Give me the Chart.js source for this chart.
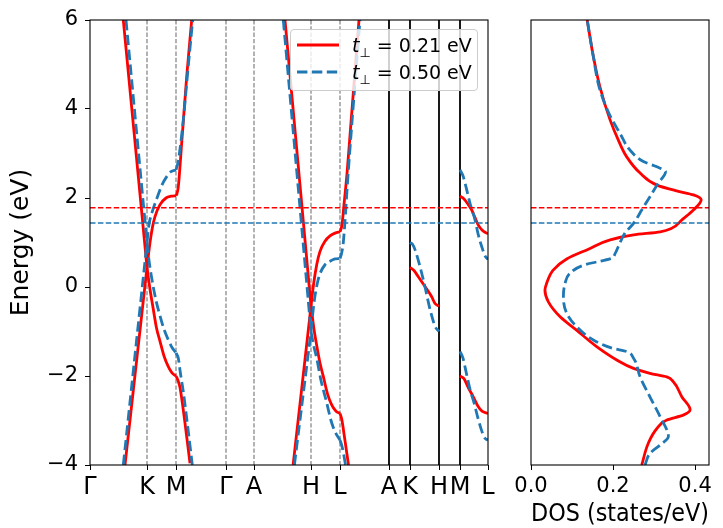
<!DOCTYPE html>
<html>
<head>
<meta charset="utf-8">
<script src="https://cdn.jsdelivr.net/npm/chart.js@4.4.1/dist/chart.umd.min.js"></script>
<style>
  body { margin: 0; background: #fff; width: 723px; height: 528px; overflow: hidden; position: relative; font-family: 'DejaVu Sans', sans-serif; }
  #bands { position: absolute; left: 0; top: 0; }
  #dos { position: absolute; left: 500px; top: 0; }
  #legend { position: absolute; left: 290px; top: 29px; width: 186px; height: 60px; border: 1px solid #ccc; border-radius: 4px; background: rgba(255,255,255,0.8); }
  #legend .row { position: absolute; left: 5px; height: 24px; display: flex; align-items: center; white-space: nowrap; }
  #legend svg { width: 44px; height: 8px; margin-right: 12px; }
  #legend span { font-size: 19px; color: #000; }
  #legend sub { font-size: 13px; vertical-align: -5px; line-height: 0; }
</style>
</head>
<body>
<canvas id="bands" width="500" height="528"></canvas>
<canvas id="dos" width="223" height="528"></canvas>
<div id="legend">
  <div class="row" style="top:3px"><svg><line x1="1" y1="4" x2="43" y2="4" stroke="#ff0000" stroke-width="2.8"/></svg><span><i>t</i><sub>⊥</sub> = 0.21 eV</span></div>
  <div class="row" style="top:30px"><svg><line x1="1" y1="4" x2="43" y2="4" stroke="#1f77b4" stroke-width="2.8" stroke-dasharray="10.4 4.5"/></svg><span><i>t</i><sub>⊥</sub> = 0.50 eV</span></div>
</div>
<script>
// Band structure + DOS for two interlayer hoppings

// k-path (tick positions along the path)
const kTickPos = [0, 57, 86, 136, 164, 221, 250, 299, 320, 349, 370, 398];
const kTickLabels = ['Γ', 'K', 'M', 'Γ', 'A', 'H', 'L', 'A', 'K', 'H', 'M', 'L'];
const dashedLineIdx = [1, 2, 3, 4, 5, 6];
const solidLineIdx = [7, 8, 9, 10];
const energyTicks = [-4, -2, 0, 2, 4, 6];
const dosTicks = [0, 0.2, 0.4];

// Fermi levels (eV)
const fermiRed = 1.78;
const fermiBlue = 1.44;

// t_perp = 0.21 eV bands, [k, E]
const redGK1 = [[33.3, 6], [57, 0.44]];
const redGK2 = [[35, -4], [57, 0.44]];
const redKM1 = [[57, 0.44], [60, 1.0], [62.5, 1.35], [65, 1.58], [70, 1.85], [76, 2.0], [81, 2.04], [86, 2.05]];
const redKM2 = [[57, 0.44], [60, -0.05], [63.3, -0.5], [66.5, -0.92], [70, -1.22], [74, -1.55], [78.3, -1.79], [82, -1.93], [86, -2.0]];
const redMG1 = [[86, 2.05], [87, 2.1], [88.3, 2.25], [91.7, 3.24], [96.7, 4.73], [101.7, 6]];
const redMG2 = [[86, -2.0], [88, -2.1], [90, -2.26], [95, -3.06], [100, -3.96]];
const redAH1 = [[195, 6], [221, -0.43]];
const redAH2 = [[203.1, -4], [221, -0.43]];
const redHL1 = [[221, -0.43], [223.5, 0.05], [226.7, 0.5], [230, 0.8], [235, 1.03], [240, 1.15], [245, 1.21], [250, 1.24]];
const redHL2 = [[221, -0.43], [224, -0.95], [227, -1.35], [230, -1.71], [233.3, -2.01], [237.5, -2.4], [241.7, -2.65], [246, -2.79], [250, -2.84]];
const redLA1 = [[250, 1.24], [252, 1.4], [254, 1.85], [257, 2.55], [261, 3.7], [265, 4.85], [269, 6]];
const redLA2 = [[250, -2.84], [252, -3.0], [254, -3.3], [258.5, -4.0]];
const redKH = [[320, 0.44], [324, 0.37], [328.3, 0.23], [335, 0.01], [341.7, -0.22], [345, -0.37], [349, -0.43]];
const redML1 = [[370, 2.04], [374, 1.98], [378, 1.86], [381.7, 1.73], [385, 1.56], [388.3, 1.39], [392, 1.28], [395, 1.23], [398, 1.2]];
const redML2 = [[370, -2.0], [374, -2.06], [378, -2.25], [383.3, -2.47], [388, -2.68], [392, -2.79], [398, -2.84]];

// t_perp = 0.50 eV bands, [k, E]
const blueGK1 = [[36, 6], [57, 1.0]];
const blueGK2 = [[33.3, -4], [57, 1.0]];
const blueKM1 = [[57, 1.0], [59, 1.4], [61.7, 1.65], [66.7, 1.98], [71.7, 2.28], [76.7, 2.48], [81, 2.59], [86, 2.63]];
const blueKM2 = [[57, 1.0], [59, 0.6], [61.7, 0.2], [66, -0.3], [70, -0.65], [74, -0.95], [78.3, -1.19], [82, -1.36], [86, -1.48]];
const blueMG1 = [[86, 2.63], [88, 2.8], [90, 3.1], [93.3, 3.75], [98, 4.9], [102.7, 6]];
const blueMG2 = [[86, -1.48], [88.3, -1.6], [90.5, -1.95], [93.3, -2.35], [97.5, -3.1], [102.3, -4.0]];
const blueAH1 = [[193.3, 6], [221, -1.0]];
const blueAH2 = [[204.4, -4], [221, -1.0]];
const blueHL1 = [[221, -1.0], [223, -0.55], [225, -0.2], [227.5, 0.1], [230, 0.3], [235, 0.5], [240, 0.58], [245, 0.63], [250, 0.64]];
const blueHL2 = [[221, -1.0], [223.5, -1.3], [226.7, -1.6], [231, -2.1], [236.7, -2.6], [241, -3.0], [245, -3.25], [250, -3.44]];
const blueLA1 = [[250, 0.64], [251.5, 0.75], [253.3, 1.0], [258.3, 2.6], [265, 4.58], [270, 6]];
const blueLA2 = [[250, -3.44], [252, -3.58], [254, -3.8], [255.5, -4.0]];
const blueKH = [[320, 1.0], [322.5, 0.96], [325, 0.84], [330, 0.46], [335, 0.0], [340, -0.5], [345, -0.88], [349, -1.0]];
const blueML1 = [[370, 2.63], [373, 2.5], [376, 2.25], [380, 1.88], [385, 1.51], [388, 1.2], [391.7, 0.91], [395, 0.7], [398, 0.62]];
const blueML2 = [[370, -1.45], [373, -1.6], [376, -1.9], [380, -2.3], [384, -2.6], [388, -2.95], [392, -3.25], [395, -3.4], [398, -3.44]];

const redBands = [redGK1, redGK2, redKM1, redKM2, redMG1, redMG2, redAH1, redAH2, redHL1, redHL2, redLA1, redLA2, redKH, redML1, redML2];
const blueBands = [blueGK1, blueGK2, blueKM1, blueKM2, blueMG1, blueMG2, blueAH1, blueAH2, blueHL1, blueHL2, blueLA1, blueLA2, blueKH, blueML1, blueML2];

// DOS (states/eV) vs E, [dos, E]
const dosRed = [[0.27, -4.0], [0.286, -3.51], [0.307, -3.18], [0.331, -2.99], [0.371, -2.88], [0.388, -2.76], [0.368, -2.47], [0.347, -2.13], [0.331, -2.02], [0.29, -1.94], [0.25, -1.83], [0.209, -1.64], [0.16, -1.34], [0.111, -0.97], [0.071, -0.67], [0.042, -0.33], [0.034, -0.07], [0.038, 0.08], [0.054, 0.38], [0.087, 0.63], [0.14, 0.85], [0.193, 1.06], [0.25, 1.17], [0.315, 1.24], [0.343, 1.32], [0.368, 1.51], [0.396, 1.73], [0.415, 1.96], [0.396, 2.07], [0.355, 2.16], [0.307, 2.29], [0.266, 2.56], [0.233, 2.93], [0.213, 3.3], [0.193, 3.75], [0.168, 4.5], [0.152, 5.18], [0.137, 6.0]];
const dosBlue = [[0.278, -4.0], [0.29, -3.74], [0.315, -3.55], [0.335, -3.36], [0.315, -2.92], [0.29, -2.47], [0.266, -2.02], [0.25, -1.6], [0.233, -1.45], [0.2, -1.38], [0.152, -1.19], [0.111, -0.89], [0.087, -0.59], [0.079, -0.22], [0.083, 0.08], [0.095, 0.31], [0.128, 0.49], [0.168, 0.58], [0.195, 0.64], [0.205, 0.75], [0.213, 0.91], [0.229, 1.21], [0.25, 1.43], [0.27, 1.73], [0.29, 2.03], [0.31, 2.33], [0.328, 2.59], [0.307, 2.7], [0.274, 2.82], [0.241, 3.08], [0.217, 3.45], [0.19, 3.9], [0.166, 4.5], [0.152, 5.18], [0.137, 6.0]];

const RED = '#ff0000';
const BLUE = '#1f77b4';
const DASH = [10.4, 4.5];

Chart.defaults.font.family = "'DejaVu Sans', sans-serif";
Chart.defaults.color = '#000';

function lineDs(points, color, dashed, order) {
  return {
    data: points.map(p => ({ x: p[0], y: p[1] })),
    borderColor: color,
    borderWidth: 2.8,
    borderDash: dashed ? DASH : [],
    pointRadius: 0,
    fill: false,
    cubicInterpolationMode: 'monotone',
    clip: 0,
    order: order
  };
}

function tickMinus(v) {
  return String(v).replace('-', '\u2212');
}

// vertical k-point lines, drawn under the bands
const kLinesPlugin = {
  id: 'kLines',
  beforeDatasetsDraw(chart) {
    const { ctx, chartArea: a, scales: { x } } = chart;
    ctx.save();
    ctx.lineWidth = 1.2;
    ctx.strokeStyle = '#808080';
    ctx.setLineDash([4.4, 1.9]);
    dashedLineIdx.forEach(i => {
      const px = x.getPixelForValue(kTickPos[i]);
      ctx.beginPath(); ctx.moveTo(px, a.top); ctx.lineTo(px, a.bottom); ctx.stroke();
    });
    ctx.setLineDash([]);
    ctx.strokeStyle = '#000';
    ctx.lineWidth = 1.8;
    solidLineIdx.forEach(i => {
      const px = x.getPixelForValue(kTickPos[i]);
      ctx.beginPath(); ctx.moveTo(px, a.top); ctx.lineTo(px, a.bottom); ctx.stroke();
    });
    ctx.restore();
  }
};

// Fermi levels + axes frame
const fermiFramePlugin = {
  id: 'fermiFrame',
  afterDatasetsDraw(chart) {
    const { ctx, chartArea: a, scales: { y } } = chart;
    ctx.save();
    ctx.lineWidth = 1.5;
    ctx.setLineDash([5.5, 2.4]);
    [[fermiRed, RED], [fermiBlue, BLUE]].forEach(([e, c]) => {
      const py = y.getPixelForValue(e);
      ctx.strokeStyle = c;
      ctx.beginPath(); ctx.moveTo(a.left, py); ctx.lineTo(a.right, py); ctx.stroke();
    });
    ctx.setLineDash([]);
    ctx.strokeStyle = '#000';
    ctx.lineWidth = 1.1;
    ctx.strokeRect(a.left, a.top, a.right - a.left, a.bottom - a.top);
    ctx.restore();
  }
};

const bandDatasets = [
  ...blueBands.map(b => lineDs(b, BLUE, true, 0)),
  ...redBands.map(b => lineDs(b, RED, false, 1))
];

new Chart(document.getElementById('bands'), {
  type: 'line',
  data: { datasets: bandDatasets },
  options: {
    responsive: false,
    animation: false,
    events: [],
    layout: { padding: { top: 20, right: 12, left: 0, bottom: 0 } },
    plugins: { legend: { display: false }, tooltip: { enabled: false } },
    scales: {
      x: {
        type: 'linear',
        min: kTickPos[0],
        max: kTickPos[kTickPos.length - 1],
        afterBuildTicks: axis => { axis.ticks = kTickPos.map(v => ({ value: v })); },
        afterFit: s => { s.height = 63; },
        ticks: { autoSkip: false, maxRotation: 0, minRotation: 0, padding: 3, font: { size: 24 }, callback: (v, i) => kTickLabels[i] },
        grid: { drawOnChartArea: false, drawTicks: true, tickLength: 5, color: '#000', lineWidth: 1 },
        border: { display: false }
      },
      y: {
        type: 'linear',
        min: -4,
        max: 6,
        afterBuildTicks: axis => { axis.ticks = energyTicks.map(v => ({ value: v })); },
        afterFit: s => { s.width = 90; },
        ticks: { padding: 7, font: { size: 21 }, callback: v => tickMinus(v) },
        grid: { drawOnChartArea: false, drawTicks: true, tickLength: 5, color: '#000', lineWidth: 1 },
        border: { display: false },
        title: { display: true, text: 'Energy (eV)', font: { size: 25 }, padding: { top: 6, bottom: 0 } }
      }
    }
  },
  plugins: [kLinesPlugin, fermiFramePlugin]
});

function dosDs(points, color, dashed, order) {
  const ds = lineDs(points, color, dashed, order);
  ds.indexAxis = 'y';
  return ds;
}

new Chart(document.getElementById('dos'), {
  type: 'line',
  data: { datasets: [dosDs(dosBlue, BLUE, true, 0), dosDs(dosRed, RED, false, 1)] },
  options: {
    responsive: false,
    animation: false,
    events: [],
    indexAxis: 'y',
    layout: { padding: { top: 20, right: 14, left: 0, bottom: 0 } },
    plugins: { legend: { display: false }, tooltip: { enabled: false } },
    scales: {
      x: {
        type: 'linear',
        position: 'bottom',
        min: 0,
        max: 0.434,
        afterBuildTicks: axis => { axis.ticks = dosTicks.map(v => ({ value: v })); },
        afterFit: s => { s.height = 63; },
        ticks: { maxRotation: 0, padding: 4, font: { size: 21 }, callback: v => v.toFixed(1) },
        grid: { drawOnChartArea: false, drawTicks: true, tickLength: 5, color: '#000', lineWidth: 1 },
        border: { display: false },
        title: { display: true, text: 'DOS (states/eV)', font: { size: 25 }, padding: { top: 0, bottom: -1 } }
      },
      y: {
        type: 'linear',
        position: 'left',
        min: -4,
        max: 6,
        afterFit: s => { s.width = 31; },
        ticks: { display: false },
        grid: { display: false },
        border: { display: false }
      }
    }
  },
  plugins: [fermiFramePlugin]
});
</script>
</body>
</html>
